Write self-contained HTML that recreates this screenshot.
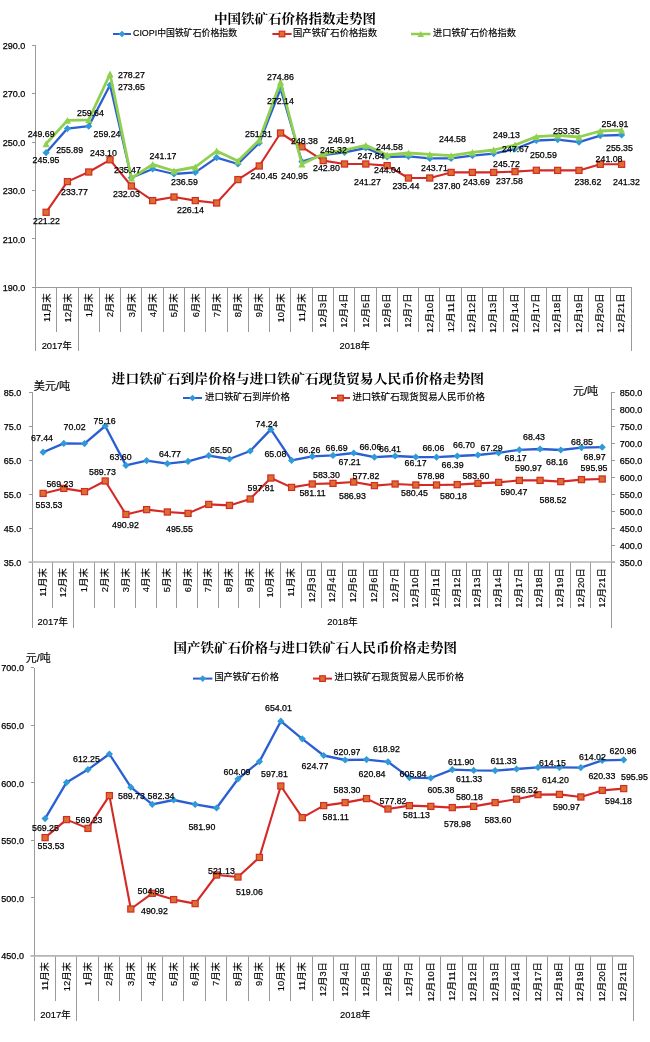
<!DOCTYPE html>
<html><head><meta charset="utf-8"><title>铁矿石价格走势图</title>
<style>
html,body{margin:0;padding:0;background:#fff;}
body{width:650px;height:1042px;overflow:hidden;}
svg{display:block;}
text{font-family:"Liberation Sans", "Noto Sans CJK SC", sans-serif;}
.n{stroke:#000;stroke-width:0.25px;}
.c{stroke:#000;stroke-width:0.15px;}
</style></head><body>
<svg width="650" height="1042" viewBox="0 0 650 1042">
<rect width="650" height="1042" fill="#fff"/>
<g stroke="#9a9a9a" stroke-width="1" fill="none" shape-rendering="crispEdges">
<line x1="35.5" y1="45" x2="35.5" y2="351"/>
<line x1="32" y1="45" x2="35.5" y2="45"/>
<line x1="32" y1="93.5" x2="35.5" y2="93.5"/>
<line x1="32" y1="142" x2="35.5" y2="142"/>
<line x1="32" y1="190.4" x2="35.5" y2="190.4"/>
<line x1="32" y1="238.9" x2="35.5" y2="238.9"/>
<line x1="32" y1="287.4" x2="35.5" y2="287.4"/>
<line x1="35.5" y1="287.4" x2="631.4" y2="287.4"/>
<line x1="56.78" y1="287.4" x2="56.78" y2="332"/>
<line x1="78.06" y1="287.4" x2="78.06" y2="351"/>
<line x1="99.35" y1="287.4" x2="99.35" y2="332"/>
<line x1="120.63" y1="287.4" x2="120.63" y2="332"/>
<line x1="141.91" y1="287.4" x2="141.91" y2="332"/>
<line x1="163.19" y1="287.4" x2="163.19" y2="332"/>
<line x1="184.47" y1="287.4" x2="184.47" y2="332"/>
<line x1="205.76" y1="287.4" x2="205.76" y2="332"/>
<line x1="227.04" y1="287.4" x2="227.04" y2="332"/>
<line x1="248.32" y1="287.4" x2="248.32" y2="332"/>
<line x1="269.6" y1="287.4" x2="269.6" y2="332"/>
<line x1="290.89" y1="287.4" x2="290.89" y2="332"/>
<line x1="312.17" y1="287.4" x2="312.17" y2="332"/>
<line x1="333.45" y1="287.4" x2="333.45" y2="332"/>
<line x1="354.73" y1="287.4" x2="354.73" y2="332"/>
<line x1="376.01" y1="287.4" x2="376.01" y2="332"/>
<line x1="397.3" y1="287.4" x2="397.3" y2="332"/>
<line x1="418.58" y1="287.4" x2="418.58" y2="332"/>
<line x1="439.86" y1="287.4" x2="439.86" y2="332"/>
<line x1="461.14" y1="287.4" x2="461.14" y2="332"/>
<line x1="482.42" y1="287.4" x2="482.42" y2="332"/>
<line x1="503.71" y1="287.4" x2="503.71" y2="332"/>
<line x1="524.99" y1="287.4" x2="524.99" y2="332"/>
<line x1="546.27" y1="287.4" x2="546.27" y2="332"/>
<line x1="567.55" y1="287.4" x2="567.55" y2="332"/>
<line x1="588.84" y1="287.4" x2="588.84" y2="332"/>
<line x1="610.12" y1="287.4" x2="610.12" y2="332"/>
<line x1="631.4" y1="287.4" x2="631.4" y2="351"/>
</g>
<text x="25.3" y="48.92" font-size="9.0" text-anchor="end" fill="#000" class="n">290.0</text>
<text x="25.3" y="97.42" font-size="9.0" text-anchor="end" fill="#000" class="n">270.0</text>
<text x="25.3" y="145.92" font-size="9.0" text-anchor="end" fill="#000" class="n">250.0</text>
<text x="25.3" y="194.32" font-size="9.0" text-anchor="end" fill="#000" class="n">230.0</text>
<text x="25.3" y="242.82" font-size="9.0" text-anchor="end" fill="#000" class="n">210.0</text>
<text x="25.3" y="291.32" font-size="9.0" text-anchor="end" fill="#000" class="n">190.0</text>
<text transform="translate(49.53,293.4) rotate(-90)" font-size="9.4" text-anchor="end" fill="#000" class="c">11月末</text>
<text transform="translate(70.81,293.4) rotate(-90)" font-size="9.4" text-anchor="end" fill="#000" class="c">12月末</text>
<text transform="translate(92.09,293.4) rotate(-90)" font-size="9.4" text-anchor="end" fill="#000" class="c">1月末</text>
<text transform="translate(113.37,293.4) rotate(-90)" font-size="9.4" text-anchor="end" fill="#000" class="c">2月末</text>
<text transform="translate(134.65,293.4) rotate(-90)" font-size="9.4" text-anchor="end" fill="#000" class="c">3月末</text>
<text transform="translate(155.94,293.4) rotate(-90)" font-size="9.4" text-anchor="end" fill="#000" class="c">4月末</text>
<text transform="translate(177.22,293.4) rotate(-90)" font-size="9.4" text-anchor="end" fill="#000" class="c">5月末</text>
<text transform="translate(198.5,293.4) rotate(-90)" font-size="9.4" text-anchor="end" fill="#000" class="c">6月末</text>
<text transform="translate(219.78,293.4) rotate(-90)" font-size="9.4" text-anchor="end" fill="#000" class="c">7月末</text>
<text transform="translate(241.06,293.4) rotate(-90)" font-size="9.4" text-anchor="end" fill="#000" class="c">8月末</text>
<text transform="translate(262.35,293.4) rotate(-90)" font-size="9.4" text-anchor="end" fill="#000" class="c">9月末</text>
<text transform="translate(283.63,293.4) rotate(-90)" font-size="9.4" text-anchor="end" fill="#000" class="c">10月末</text>
<text transform="translate(304.91,293.4) rotate(-90)" font-size="9.4" text-anchor="end" fill="#000" class="c">11月末</text>
<text transform="translate(326.19,293.4) rotate(-90)" font-size="9.4" text-anchor="end" fill="#000" class="c">12月3日</text>
<text transform="translate(347.48,293.4) rotate(-90)" font-size="9.4" text-anchor="end" fill="#000" class="c">12月4日</text>
<text transform="translate(368.76,293.4) rotate(-90)" font-size="9.4" text-anchor="end" fill="#000" class="c">12月5日</text>
<text transform="translate(390.04,293.4) rotate(-90)" font-size="9.4" text-anchor="end" fill="#000" class="c">12月6日</text>
<text transform="translate(411.32,293.4) rotate(-90)" font-size="9.4" text-anchor="end" fill="#000" class="c">12月7日</text>
<text transform="translate(432.6,293.4) rotate(-90)" font-size="9.4" text-anchor="end" fill="#000" class="c">12月10日</text>
<text transform="translate(453.89,293.4) rotate(-90)" font-size="9.4" text-anchor="end" fill="#000" class="c">12月11日</text>
<text transform="translate(475.17,293.4) rotate(-90)" font-size="9.4" text-anchor="end" fill="#000" class="c">12月12日</text>
<text transform="translate(496.45,293.4) rotate(-90)" font-size="9.4" text-anchor="end" fill="#000" class="c">12月13日</text>
<text transform="translate(517.73,293.4) rotate(-90)" font-size="9.4" text-anchor="end" fill="#000" class="c">12月14日</text>
<text transform="translate(539.01,293.4) rotate(-90)" font-size="9.4" text-anchor="end" fill="#000" class="c">12月17日</text>
<text transform="translate(560.3,293.4) rotate(-90)" font-size="9.4" text-anchor="end" fill="#000" class="c">12月18日</text>
<text transform="translate(581.58,293.4) rotate(-90)" font-size="9.4" text-anchor="end" fill="#000" class="c">12月19日</text>
<text transform="translate(602.86,293.4) rotate(-90)" font-size="9.4" text-anchor="end" fill="#000" class="c">12月20日</text>
<text transform="translate(624.14,293.4) rotate(-90)" font-size="9.4" text-anchor="end" fill="#000" class="c">12月21日</text>
<text x="56.78" y="349.38" font-size="9.4" text-anchor="middle" fill="#000" class="c">2017年</text>
<text x="354.73" y="349.38" font-size="9.4" text-anchor="middle" fill="#000" class="c">2018年</text>
<text x="214" y="22.94" font-size="13" text-anchor="start" fill="#000" textLength="162" lengthAdjust="spacingAndGlyphs" font-weight="bold" style='font-family:"Liberation Serif", "Noto Serif CJK SC", serif'>中国铁矿石价格指数走势图</text>
<line x1="113" y1="34" x2="131" y2="34" stroke="#2a5fd3" stroke-width="2"/>
<path d="M122 30.7L125.3 34L122 37.3L118.7 34Z" fill="#2f9ad8"/>
<text x="133" y="35.93" font-size="9.3" text-anchor="start" fill="#000" textLength="104" lengthAdjust="spacingAndGlyphs" class="c">CIOPI中国铁矿石价格指数</text>
<line x1="272.4" y1="34" x2="291.6" y2="34" stroke="#d42a26" stroke-width="2"/>
<rect x="279.2" y="31.2" width="5.6" height="5.6" fill="#d9702e" stroke="#d42a26" stroke-width="1.2"/>
<text x="293" y="35.93" font-size="9.3" text-anchor="start" fill="#000" textLength="84" lengthAdjust="spacingAndGlyphs" class="c">国产铁矿石价格指数</text>
<line x1="411" y1="34" x2="430.5" y2="34" stroke="#90cf50" stroke-width="2.5"/>
<path d="M420.75 31L424 37L417.5 37Z" fill="#90cf50"/>
<text x="433" y="35.93" font-size="9.3" text-anchor="start" fill="#000" textLength="83" lengthAdjust="spacingAndGlyphs" class="c">进口铁矿石价格指数</text>
<polyline points="46.1,152.7 67.42,128.6 88.73,126.2 110.05,85 131.36,177.8 152.68,169 173.99,174 195.31,172.4 216.62,157.6 237.94,164 259.25,143 280.56,88.8 301.88,161.6 323.2,155 344.51,152.4 365.83,148 387.14,157 408.46,156.4 429.77,158.4 451.09,158.4 472.4,155.6 493.72,153.6 515.03,149 536.35,140.5 557.66,139.6 578.98,142.2 600.29,135.6 621.61,135" fill="none" stroke="#2a5fd3" stroke-width="2.3" stroke-linejoin="round" stroke-linecap="round"/>
<path d="M46.1 149.1L49.7 152.7L46.1 156.3L42.5 152.7Z" fill="#2f9ad8"/>
<path d="M67.42 125L71.02 128.6L67.42 132.2L63.82 128.6Z" fill="#2f9ad8"/>
<path d="M88.73 122.6L92.33 126.2L88.73 129.8L85.13 126.2Z" fill="#2f9ad8"/>
<path d="M110.05 81.4L113.65 85L110.05 88.6L106.45 85Z" fill="#2f9ad8"/>
<path d="M131.36 174.2L134.96 177.8L131.36 181.4L127.76 177.8Z" fill="#2f9ad8"/>
<path d="M152.68 165.4L156.28 169L152.68 172.6L149.08 169Z" fill="#2f9ad8"/>
<path d="M173.99 170.4L177.59 174L173.99 177.6L170.39 174Z" fill="#2f9ad8"/>
<path d="M195.31 168.8L198.91 172.4L195.31 176L191.71 172.4Z" fill="#2f9ad8"/>
<path d="M216.62 154L220.22 157.6L216.62 161.2L213.02 157.6Z" fill="#2f9ad8"/>
<path d="M237.94 160.4L241.53 164L237.94 167.6L234.34 164Z" fill="#2f9ad8"/>
<path d="M259.25 139.4L262.85 143L259.25 146.6L255.65 143Z" fill="#2f9ad8"/>
<path d="M280.56 85.2L284.17 88.8L280.56 92.4L276.96 88.8Z" fill="#2f9ad8"/>
<path d="M301.88 158L305.48 161.6L301.88 165.2L298.28 161.6Z" fill="#2f9ad8"/>
<path d="M323.2 151.4L326.8 155L323.2 158.6L319.6 155Z" fill="#2f9ad8"/>
<path d="M344.51 148.8L348.11 152.4L344.51 156L340.91 152.4Z" fill="#2f9ad8"/>
<path d="M365.83 144.4L369.43 148L365.83 151.6L362.23 148Z" fill="#2f9ad8"/>
<path d="M387.14 153.4L390.74 157L387.14 160.6L383.54 157Z" fill="#2f9ad8"/>
<path d="M408.46 152.8L412.06 156.4L408.46 160L404.86 156.4Z" fill="#2f9ad8"/>
<path d="M429.77 154.8L433.37 158.4L429.77 162L426.17 158.4Z" fill="#2f9ad8"/>
<path d="M451.09 154.8L454.69 158.4L451.09 162L447.49 158.4Z" fill="#2f9ad8"/>
<path d="M472.4 152L476 155.6L472.4 159.2L468.8 155.6Z" fill="#2f9ad8"/>
<path d="M493.72 150L497.32 153.6L493.72 157.2L490.12 153.6Z" fill="#2f9ad8"/>
<path d="M515.03 145.4L518.63 149L515.03 152.6L511.43 149Z" fill="#2f9ad8"/>
<path d="M536.35 136.9L539.95 140.5L536.35 144.1L532.75 140.5Z" fill="#2f9ad8"/>
<path d="M557.66 136L561.26 139.6L557.66 143.2L554.06 139.6Z" fill="#2f9ad8"/>
<path d="M578.98 138.6L582.58 142.2L578.98 145.8L575.38 142.2Z" fill="#2f9ad8"/>
<path d="M600.29 132L603.89 135.6L600.29 139.2L596.69 135.6Z" fill="#2f9ad8"/>
<path d="M621.61 131.4L625.21 135L621.61 138.6L618 135Z" fill="#2f9ad8"/>
<polyline points="46.1,212.3 67.42,181.6 88.73,172 110.05,159.8 131.36,186 152.68,200.6 173.99,197 195.31,200.6 216.62,203 237.94,179.6 259.25,166 280.56,133 301.88,146.8 323.2,160.6 344.51,164 365.83,164 387.14,165.6 408.46,178 429.77,178 451.09,172.4 472.4,172.4 493.72,172.4 515.03,171.6 536.35,170.3 557.66,170.4 578.98,170.4 600.29,164.3 621.61,164.3" fill="none" stroke="#d42a26" stroke-width="2.1" stroke-linejoin="round" stroke-linecap="round"/>
<rect x="43.05" y="209.25" width="6.1" height="6.1" fill="#d9702e" stroke="#d42a26" stroke-width="1.2"/>
<rect x="64.37" y="178.55" width="6.1" height="6.1" fill="#d9702e" stroke="#d42a26" stroke-width="1.2"/>
<rect x="85.68" y="168.95" width="6.1" height="6.1" fill="#d9702e" stroke="#d42a26" stroke-width="1.2"/>
<rect x="107" y="156.75" width="6.1" height="6.1" fill="#d9702e" stroke="#d42a26" stroke-width="1.2"/>
<rect x="128.31" y="182.95" width="6.1" height="6.1" fill="#d9702e" stroke="#d42a26" stroke-width="1.2"/>
<rect x="149.62" y="197.55" width="6.1" height="6.1" fill="#d9702e" stroke="#d42a26" stroke-width="1.2"/>
<rect x="170.94" y="193.95" width="6.1" height="6.1" fill="#d9702e" stroke="#d42a26" stroke-width="1.2"/>
<rect x="192.25" y="197.55" width="6.1" height="6.1" fill="#d9702e" stroke="#d42a26" stroke-width="1.2"/>
<rect x="213.57" y="199.95" width="6.1" height="6.1" fill="#d9702e" stroke="#d42a26" stroke-width="1.2"/>
<rect x="234.88" y="176.55" width="6.1" height="6.1" fill="#d9702e" stroke="#d42a26" stroke-width="1.2"/>
<rect x="256.2" y="162.95" width="6.1" height="6.1" fill="#d9702e" stroke="#d42a26" stroke-width="1.2"/>
<rect x="277.52" y="129.95" width="6.1" height="6.1" fill="#d9702e" stroke="#d42a26" stroke-width="1.2"/>
<rect x="298.83" y="143.75" width="6.1" height="6.1" fill="#d9702e" stroke="#d42a26" stroke-width="1.2"/>
<rect x="320.15" y="157.55" width="6.1" height="6.1" fill="#d9702e" stroke="#d42a26" stroke-width="1.2"/>
<rect x="341.46" y="160.95" width="6.1" height="6.1" fill="#d9702e" stroke="#d42a26" stroke-width="1.2"/>
<rect x="362.78" y="160.95" width="6.1" height="6.1" fill="#d9702e" stroke="#d42a26" stroke-width="1.2"/>
<rect x="384.09" y="162.55" width="6.1" height="6.1" fill="#d9702e" stroke="#d42a26" stroke-width="1.2"/>
<rect x="405.41" y="174.95" width="6.1" height="6.1" fill="#d9702e" stroke="#d42a26" stroke-width="1.2"/>
<rect x="426.72" y="174.95" width="6.1" height="6.1" fill="#d9702e" stroke="#d42a26" stroke-width="1.2"/>
<rect x="448.04" y="169.35" width="6.1" height="6.1" fill="#d9702e" stroke="#d42a26" stroke-width="1.2"/>
<rect x="469.35" y="169.35" width="6.1" height="6.1" fill="#d9702e" stroke="#d42a26" stroke-width="1.2"/>
<rect x="490.67" y="169.35" width="6.1" height="6.1" fill="#d9702e" stroke="#d42a26" stroke-width="1.2"/>
<rect x="511.98" y="168.55" width="6.1" height="6.1" fill="#d9702e" stroke="#d42a26" stroke-width="1.2"/>
<rect x="533.3" y="167.25" width="6.1" height="6.1" fill="#d9702e" stroke="#d42a26" stroke-width="1.2"/>
<rect x="554.61" y="167.35" width="6.1" height="6.1" fill="#d9702e" stroke="#d42a26" stroke-width="1.2"/>
<rect x="575.93" y="167.35" width="6.1" height="6.1" fill="#d9702e" stroke="#d42a26" stroke-width="1.2"/>
<rect x="597.24" y="161.25" width="6.1" height="6.1" fill="#d9702e" stroke="#d42a26" stroke-width="1.2"/>
<rect x="618.56" y="161.25" width="6.1" height="6.1" fill="#d9702e" stroke="#d42a26" stroke-width="1.2"/>
<polyline points="46.1,143.8 67.42,120.4 88.73,119.8 110.05,74 131.36,178.2 152.68,164.4 173.99,171 195.31,167 216.62,151 237.94,161 259.25,140 280.56,82 301.88,164 323.2,154 344.51,150 365.83,145.3 387.14,155 408.46,153 429.77,154.4 451.09,155.6 472.4,152.4 493.72,150 515.03,145 536.35,136.6 557.66,135.3 578.98,137 600.29,131 621.61,130.2" fill="none" stroke="#90cf50" stroke-width="2.8" stroke-linejoin="round" stroke-linecap="round"/>
<path d="M46.1 140.4L49.7 147.2L42.5 147.2Z" fill="#90cf50"/>
<path d="M67.42 117L71.02 123.8L63.82 123.8Z" fill="#90cf50"/>
<path d="M88.73 116.4L92.33 123.2L85.13 123.2Z" fill="#90cf50"/>
<path d="M110.05 70.6L113.65 77.4L106.45 77.4Z" fill="#90cf50"/>
<path d="M131.36 174.8L134.96 181.6L127.76 181.6Z" fill="#90cf50"/>
<path d="M152.68 161L156.28 167.8L149.08 167.8Z" fill="#90cf50"/>
<path d="M173.99 167.6L177.59 174.4L170.39 174.4Z" fill="#90cf50"/>
<path d="M195.31 163.6L198.91 170.4L191.71 170.4Z" fill="#90cf50"/>
<path d="M216.62 147.6L220.22 154.4L213.02 154.4Z" fill="#90cf50"/>
<path d="M237.94 157.6L241.53 164.4L234.34 164.4Z" fill="#90cf50"/>
<path d="M259.25 136.6L262.85 143.4L255.65 143.4Z" fill="#90cf50"/>
<path d="M280.56 78.6L284.17 85.4L276.96 85.4Z" fill="#90cf50"/>
<path d="M301.88 160.6L305.48 167.4L298.28 167.4Z" fill="#90cf50"/>
<path d="M323.2 150.6L326.8 157.4L319.6 157.4Z" fill="#90cf50"/>
<path d="M344.51 146.6L348.11 153.4L340.91 153.4Z" fill="#90cf50"/>
<path d="M365.83 141.9L369.43 148.7L362.23 148.7Z" fill="#90cf50"/>
<path d="M387.14 151.6L390.74 158.4L383.54 158.4Z" fill="#90cf50"/>
<path d="M408.46 149.6L412.06 156.4L404.86 156.4Z" fill="#90cf50"/>
<path d="M429.77 151L433.37 157.8L426.17 157.8Z" fill="#90cf50"/>
<path d="M451.09 152.2L454.69 159L447.49 159Z" fill="#90cf50"/>
<path d="M472.4 149L476 155.8L468.8 155.8Z" fill="#90cf50"/>
<path d="M493.72 146.6L497.32 153.4L490.12 153.4Z" fill="#90cf50"/>
<path d="M515.03 141.6L518.63 148.4L511.43 148.4Z" fill="#90cf50"/>
<path d="M536.35 133.2L539.95 140L532.75 140Z" fill="#90cf50"/>
<path d="M557.66 131.9L561.26 138.7L554.06 138.7Z" fill="#90cf50"/>
<path d="M578.98 133.6L582.58 140.4L575.38 140.4Z" fill="#90cf50"/>
<path d="M600.29 127.6L603.89 134.4L596.69 134.4Z" fill="#90cf50"/>
<path d="M621.61 126.8L625.21 133.6L618 133.6Z" fill="#90cf50"/>
<text x="27.7" y="136.55" font-size="8.8" text-anchor="start" fill="#000" class="n">249.69</text>
<text x="32.6" y="162.75" font-size="8.8" text-anchor="start" fill="#000" class="n">245.95</text>
<text x="33" y="223.55" font-size="8.8" text-anchor="start" fill="#000" class="n">221.22</text>
<text x="56.2" y="153.05" font-size="8.8" text-anchor="start" fill="#000" class="n">255.89</text>
<text x="61" y="194.55" font-size="8.8" text-anchor="start" fill="#000" class="n">233.77</text>
<text x="77" y="115.85" font-size="8.8" text-anchor="start" fill="#000" class="n">259.64</text>
<text x="93.6" y="136.95" font-size="8.8" text-anchor="start" fill="#000" class="n">259.24</text>
<text x="90" y="155.85" font-size="8.8" text-anchor="start" fill="#000" class="n">243.10</text>
<text x="118" y="77.95" font-size="8.8" text-anchor="start" fill="#000" class="n">278.27</text>
<text x="118" y="89.55" font-size="8.8" text-anchor="start" fill="#000" class="n">273.65</text>
<text x="114" y="172.55" font-size="8.8" text-anchor="start" fill="#000" class="n">235.47</text>
<text x="113" y="196.55" font-size="8.8" text-anchor="start" fill="#000" class="n">232.03</text>
<text x="149.6" y="158.55" font-size="8.8" text-anchor="start" fill="#000" class="n">241.17</text>
<text x="171" y="185.15" font-size="8.8" text-anchor="start" fill="#000" class="n">236.59</text>
<text x="177" y="213.15" font-size="8.8" text-anchor="start" fill="#000" class="n">226.14</text>
<text x="245" y="137.15" font-size="8.8" text-anchor="start" fill="#000" class="n">251.31</text>
<text x="250.6" y="178.55" font-size="8.8" text-anchor="start" fill="#000" class="n">240.45</text>
<text x="267" y="79.55" font-size="8.8" text-anchor="start" fill="#000" class="n">274.86</text>
<text x="267" y="103.55" font-size="8.8" text-anchor="start" fill="#000" class="n">272.14</text>
<text x="281" y="178.55" font-size="8.8" text-anchor="start" fill="#000" class="n">240.95</text>
<text x="291" y="143.55" font-size="8.8" text-anchor="start" fill="#000" class="n">248.38</text>
<text x="313" y="171.15" font-size="8.8" text-anchor="start" fill="#000" class="n">242.80</text>
<text x="320" y="152.55" font-size="8.8" text-anchor="start" fill="#000" class="n">245.32</text>
<text x="328" y="143.15" font-size="8.8" text-anchor="start" fill="#000" class="n">246.91</text>
<text x="357.6" y="158.55" font-size="8.8" text-anchor="start" fill="#000" class="n">247.84</text>
<text x="354" y="184.55" font-size="8.8" text-anchor="start" fill="#000" class="n">241.27</text>
<text x="376" y="149.95" font-size="8.8" text-anchor="start" fill="#000" class="n">244.58</text>
<text x="374" y="173.15" font-size="8.8" text-anchor="start" fill="#000" class="n">244.04</text>
<text x="392.4" y="188.55" font-size="8.8" text-anchor="start" fill="#000" class="n">235.44</text>
<text x="421" y="170.55" font-size="8.8" text-anchor="start" fill="#000" class="n">243.71</text>
<text x="439" y="141.55" font-size="8.8" text-anchor="start" fill="#000" class="n">244.58</text>
<text x="433.6" y="188.55" font-size="8.8" text-anchor="start" fill="#000" class="n">237.80</text>
<text x="463" y="184.55" font-size="8.8" text-anchor="start" fill="#000" class="n">243.69</text>
<text x="493" y="137.95" font-size="8.8" text-anchor="start" fill="#000" class="n">249.13</text>
<text x="502" y="151.55" font-size="8.8" text-anchor="start" fill="#000" class="n">247.67</text>
<text x="493" y="167.15" font-size="8.8" text-anchor="start" fill="#000" class="n">245.72</text>
<text x="496" y="183.95" font-size="8.8" text-anchor="start" fill="#000" class="n">237.58</text>
<text x="530" y="157.95" font-size="8.8" text-anchor="start" fill="#000" class="n">250.59</text>
<text x="553" y="133.55" font-size="8.8" text-anchor="start" fill="#000" class="n">253.35</text>
<text x="574.4" y="184.55" font-size="8.8" text-anchor="start" fill="#000" class="n">238.62</text>
<text x="601.6" y="126.55" font-size="8.8" text-anchor="start" fill="#000" class="n">254.91</text>
<text x="606" y="150.55" font-size="8.8" text-anchor="start" fill="#000" class="n">255.35</text>
<text x="595.6" y="161.55" font-size="8.8" text-anchor="start" fill="#000" class="n">241.08</text>
<text x="613" y="184.55" font-size="8.8" text-anchor="start" fill="#000" class="n">241.32</text>
<g stroke="#9a9a9a" stroke-width="1" fill="none" shape-rendering="crispEdges">
<line x1="32" y1="392" x2="32" y2="628"/>
<line x1="28.5" y1="392" x2="32" y2="392"/>
<line x1="28.5" y1="426" x2="32" y2="426"/>
<line x1="28.5" y1="460" x2="32" y2="460"/>
<line x1="28.5" y1="494" x2="32" y2="494"/>
<line x1="28.5" y1="528" x2="32" y2="528"/>
<line x1="28.5" y1="562" x2="32" y2="562"/>
<line x1="611.5" y1="392" x2="611.5" y2="628"/>
<line x1="611.5" y1="392" x2="615" y2="392"/>
<line x1="611.5" y1="409" x2="615" y2="409"/>
<line x1="611.5" y1="426" x2="615" y2="426"/>
<line x1="611.5" y1="443" x2="615" y2="443"/>
<line x1="611.5" y1="460" x2="615" y2="460"/>
<line x1="611.5" y1="477" x2="615" y2="477"/>
<line x1="611.5" y1="494" x2="615" y2="494"/>
<line x1="611.5" y1="511" x2="615" y2="511"/>
<line x1="611.5" y1="528" x2="615" y2="528"/>
<line x1="611.5" y1="545" x2="615" y2="545"/>
<line x1="611.5" y1="562" x2="615" y2="562"/>
<line x1="52.7" y1="562" x2="52.7" y2="608"/>
<line x1="73.39" y1="562" x2="73.39" y2="628"/>
<line x1="94.09" y1="562" x2="94.09" y2="608"/>
<line x1="114.79" y1="562" x2="114.79" y2="608"/>
<line x1="135.48" y1="562" x2="135.48" y2="608"/>
<line x1="156.18" y1="562" x2="156.18" y2="608"/>
<line x1="176.88" y1="562" x2="176.88" y2="608"/>
<line x1="197.57" y1="562" x2="197.57" y2="608"/>
<line x1="218.27" y1="562" x2="218.27" y2="608"/>
<line x1="238.96" y1="562" x2="238.96" y2="608"/>
<line x1="259.66" y1="562" x2="259.66" y2="608"/>
<line x1="280.36" y1="562" x2="280.36" y2="608"/>
<line x1="301.05" y1="562" x2="301.05" y2="608"/>
<line x1="321.75" y1="562" x2="321.75" y2="608"/>
<line x1="342.45" y1="562" x2="342.45" y2="608"/>
<line x1="363.14" y1="562" x2="363.14" y2="608"/>
<line x1="383.84" y1="562" x2="383.84" y2="608"/>
<line x1="404.54" y1="562" x2="404.54" y2="608"/>
<line x1="425.23" y1="562" x2="425.23" y2="608"/>
<line x1="445.93" y1="562" x2="445.93" y2="608"/>
<line x1="466.63" y1="562" x2="466.63" y2="608"/>
<line x1="487.32" y1="562" x2="487.32" y2="608"/>
<line x1="508.02" y1="562" x2="508.02" y2="608"/>
<line x1="528.71" y1="562" x2="528.71" y2="608"/>
<line x1="549.41" y1="562" x2="549.41" y2="608"/>
<line x1="570.11" y1="562" x2="570.11" y2="608"/>
<line x1="590.8" y1="562" x2="590.8" y2="608"/>
</g>
<line x1="28.5" y1="562" x2="615" y2="562" stroke="#b4b4b4" stroke-width="1.6"/>
<text x="21.3" y="395.92" font-size="9.0" text-anchor="end" fill="#000" class="n">85.0</text>
<text x="21.3" y="429.92" font-size="9.0" text-anchor="end" fill="#000" class="n">75.0</text>
<text x="21.3" y="463.92" font-size="9.0" text-anchor="end" fill="#000" class="n">65.0</text>
<text x="21.3" y="497.92" font-size="9.0" text-anchor="end" fill="#000" class="n">55.0</text>
<text x="21.3" y="531.92" font-size="9.0" text-anchor="end" fill="#000" class="n">45.0</text>
<text x="21.3" y="565.92" font-size="9.0" text-anchor="end" fill="#000" class="n">35.0</text>
<text x="619.8" y="395.92" font-size="9.0" text-anchor="start" fill="#000" class="n">850.0</text>
<text x="619.8" y="412.92" font-size="9.0" text-anchor="start" fill="#000" class="n">800.0</text>
<text x="619.8" y="429.92" font-size="9.0" text-anchor="start" fill="#000" class="n">750.0</text>
<text x="619.8" y="446.92" font-size="9.0" text-anchor="start" fill="#000" class="n">700.0</text>
<text x="619.8" y="463.92" font-size="9.0" text-anchor="start" fill="#000" class="n">650.0</text>
<text x="619.8" y="480.92" font-size="9.0" text-anchor="start" fill="#000" class="n">600.0</text>
<text x="619.8" y="497.92" font-size="9.0" text-anchor="start" fill="#000" class="n">550.0</text>
<text x="619.8" y="514.92" font-size="9.0" text-anchor="start" fill="#000" class="n">500.0</text>
<text x="619.8" y="531.92" font-size="9.0" text-anchor="start" fill="#000" class="n">450.0</text>
<text x="619.8" y="548.92" font-size="9.0" text-anchor="start" fill="#000" class="n">400.0</text>
<text x="619.8" y="565.92" font-size="9.0" text-anchor="start" fill="#000" class="n">350.0</text>
<text transform="translate(45.73,568.2) rotate(-90)" font-size="9.4" text-anchor="end" fill="#000" class="c">11月末</text>
<text transform="translate(66.43,568.2) rotate(-90)" font-size="9.4" text-anchor="end" fill="#000" class="c">12月末</text>
<text transform="translate(87.13,568.2) rotate(-90)" font-size="9.4" text-anchor="end" fill="#000" class="c">1月末</text>
<text transform="translate(107.82,568.2) rotate(-90)" font-size="9.4" text-anchor="end" fill="#000" class="c">2月末</text>
<text transform="translate(128.52,568.2) rotate(-90)" font-size="9.4" text-anchor="end" fill="#000" class="c">3月末</text>
<text transform="translate(149.21,568.2) rotate(-90)" font-size="9.4" text-anchor="end" fill="#000" class="c">4月末</text>
<text transform="translate(169.91,568.2) rotate(-90)" font-size="9.4" text-anchor="end" fill="#000" class="c">5月末</text>
<text transform="translate(190.61,568.2) rotate(-90)" font-size="9.4" text-anchor="end" fill="#000" class="c">6月末</text>
<text transform="translate(211.3,568.2) rotate(-90)" font-size="9.4" text-anchor="end" fill="#000" class="c">7月末</text>
<text transform="translate(232,568.2) rotate(-90)" font-size="9.4" text-anchor="end" fill="#000" class="c">8月末</text>
<text transform="translate(252.7,568.2) rotate(-90)" font-size="9.4" text-anchor="end" fill="#000" class="c">9月末</text>
<text transform="translate(273.39,568.2) rotate(-90)" font-size="9.4" text-anchor="end" fill="#000" class="c">10月末</text>
<text transform="translate(294.09,568.2) rotate(-90)" font-size="9.4" text-anchor="end" fill="#000" class="c">11月末</text>
<text transform="translate(314.79,568.2) rotate(-90)" font-size="9.4" text-anchor="end" fill="#000" class="c">12月3日</text>
<text transform="translate(335.48,568.2) rotate(-90)" font-size="9.4" text-anchor="end" fill="#000" class="c">12月4日</text>
<text transform="translate(356.18,568.2) rotate(-90)" font-size="9.4" text-anchor="end" fill="#000" class="c">12月5日</text>
<text transform="translate(376.88,568.2) rotate(-90)" font-size="9.4" text-anchor="end" fill="#000" class="c">12月6日</text>
<text transform="translate(397.57,568.2) rotate(-90)" font-size="9.4" text-anchor="end" fill="#000" class="c">12月7日</text>
<text transform="translate(418.27,568.2) rotate(-90)" font-size="9.4" text-anchor="end" fill="#000" class="c">12月10日</text>
<text transform="translate(438.96,568.2) rotate(-90)" font-size="9.4" text-anchor="end" fill="#000" class="c">12月11日</text>
<text transform="translate(459.66,568.2) rotate(-90)" font-size="9.4" text-anchor="end" fill="#000" class="c">12月12日</text>
<text transform="translate(480.36,568.2) rotate(-90)" font-size="9.4" text-anchor="end" fill="#000" class="c">12月13日</text>
<text transform="translate(501.05,568.2) rotate(-90)" font-size="9.4" text-anchor="end" fill="#000" class="c">12月14日</text>
<text transform="translate(521.75,568.2) rotate(-90)" font-size="9.4" text-anchor="end" fill="#000" class="c">12月17日</text>
<text transform="translate(542.45,568.2) rotate(-90)" font-size="9.4" text-anchor="end" fill="#000" class="c">12月18日</text>
<text transform="translate(563.14,568.2) rotate(-90)" font-size="9.4" text-anchor="end" fill="#000" class="c">12月19日</text>
<text transform="translate(583.84,568.2) rotate(-90)" font-size="9.4" text-anchor="end" fill="#000" class="c">12月20日</text>
<text transform="translate(604.54,568.2) rotate(-90)" font-size="9.4" text-anchor="end" fill="#000" class="c">12月21日</text>
<text x="52.7" y="624.88" font-size="9.4" text-anchor="middle" fill="#000" class="c">2017年</text>
<text x="342.45" y="624.88" font-size="9.4" text-anchor="middle" fill="#000" class="c">2018年</text>
<text x="111.6" y="382.64" font-size="13" text-anchor="start" fill="#000" textLength="372.4" lengthAdjust="spacingAndGlyphs" font-weight="bold" style='font-family:"Liberation Serif", "Noto Serif CJK SC", serif'>进口铁矿石到岸价格与进口铁矿石现货贸易人民币价格走势图</text>
<text x="33.8" y="389.7" font-size="10.8" text-anchor="start" fill="#000" textLength="36.4" lengthAdjust="spacingAndGlyphs" class="c">美元/吨</text>
<text x="572.9" y="395.2" font-size="10.8" text-anchor="start" fill="#000" textLength="25.3" lengthAdjust="spacingAndGlyphs" class="c">元/吨</text>
<line x1="183" y1="398" x2="202" y2="398" stroke="#2a5fd3" stroke-width="2"/>
<path d="M192.5 394.7L195.8 398L192.5 401.3L189.2 398Z" fill="#2f9ad8"/>
<text x="205" y="399.59" font-size="9.45" text-anchor="start" fill="#000" textLength="85" lengthAdjust="spacingAndGlyphs" class="c">进口铁矿石到岸价格</text>
<line x1="331" y1="398" x2="350" y2="398" stroke="#d42a26" stroke-width="2"/>
<rect x="337.7" y="395.2" width="5.6" height="5.6" fill="#d9702e" stroke="#d42a26" stroke-width="1.2"/>
<text x="352.4" y="399.59" font-size="9.45" text-anchor="start" fill="#000" textLength="132.6" lengthAdjust="spacingAndGlyphs" class="c">进口铁矿石现货贸易人民币价格</text>
<polyline points="43.1,452.2 63.81,443.4 84.51,443.6 105.22,426 125.93,465.4 146.63,460.6 167.34,463.6 188.05,461.4 208.76,455.6 229.46,459 250.17,451 270.88,429.4 291.58,460.4 312.29,456.4 333,455.4 353.71,453 374.41,457.2 395.12,456 415.83,457 436.53,457.2 457.24,456 477.95,455 498.65,452.8 519.36,449.8 540.07,449 560.78,450 581.48,447.6 602.19,447.2" fill="none" stroke="#2a5fd3" stroke-width="2.3" stroke-linejoin="round" stroke-linecap="round"/>
<path d="M43.1 448.6L46.7 452.2L43.1 455.8L39.5 452.2Z" fill="#2f9ad8"/>
<path d="M63.81 439.8L67.41 443.4L63.81 447L60.21 443.4Z" fill="#2f9ad8"/>
<path d="M84.51 440L88.11 443.6L84.51 447.2L80.91 443.6Z" fill="#2f9ad8"/>
<path d="M105.22 422.4L108.82 426L105.22 429.6L101.62 426Z" fill="#2f9ad8"/>
<path d="M125.93 461.8L129.53 465.4L125.93 469L122.33 465.4Z" fill="#2f9ad8"/>
<path d="M146.63 457L150.23 460.6L146.63 464.2L143.03 460.6Z" fill="#2f9ad8"/>
<path d="M167.34 460L170.94 463.6L167.34 467.2L163.74 463.6Z" fill="#2f9ad8"/>
<path d="M188.05 457.8L191.65 461.4L188.05 465L184.45 461.4Z" fill="#2f9ad8"/>
<path d="M208.76 452L212.36 455.6L208.76 459.2L205.16 455.6Z" fill="#2f9ad8"/>
<path d="M229.46 455.4L233.06 459L229.46 462.6L225.86 459Z" fill="#2f9ad8"/>
<path d="M250.17 447.4L253.77 451L250.17 454.6L246.57 451Z" fill="#2f9ad8"/>
<path d="M270.88 425.8L274.48 429.4L270.88 433L267.28 429.4Z" fill="#2f9ad8"/>
<path d="M291.58 456.8L295.18 460.4L291.58 464L287.98 460.4Z" fill="#2f9ad8"/>
<path d="M312.29 452.8L315.89 456.4L312.29 460L308.69 456.4Z" fill="#2f9ad8"/>
<path d="M333 451.8L336.6 455.4L333 459L329.4 455.4Z" fill="#2f9ad8"/>
<path d="M353.71 449.4L357.31 453L353.71 456.6L350.11 453Z" fill="#2f9ad8"/>
<path d="M374.41 453.6L378.01 457.2L374.41 460.8L370.81 457.2Z" fill="#2f9ad8"/>
<path d="M395.12 452.4L398.72 456L395.12 459.6L391.52 456Z" fill="#2f9ad8"/>
<path d="M415.83 453.4L419.43 457L415.83 460.6L412.23 457Z" fill="#2f9ad8"/>
<path d="M436.53 453.6L440.13 457.2L436.53 460.8L432.93 457.2Z" fill="#2f9ad8"/>
<path d="M457.24 452.4L460.84 456L457.24 459.6L453.64 456Z" fill="#2f9ad8"/>
<path d="M477.95 451.4L481.55 455L477.95 458.6L474.35 455Z" fill="#2f9ad8"/>
<path d="M498.65 449.2L502.25 452.8L498.65 456.4L495.05 452.8Z" fill="#2f9ad8"/>
<path d="M519.36 446.2L522.96 449.8L519.36 453.4L515.76 449.8Z" fill="#2f9ad8"/>
<path d="M540.07 445.4L543.67 449L540.07 452.6L536.47 449Z" fill="#2f9ad8"/>
<path d="M560.78 446.4L564.38 450L560.78 453.6L557.18 450Z" fill="#2f9ad8"/>
<path d="M581.48 444L585.08 447.6L581.48 451.2L577.88 447.6Z" fill="#2f9ad8"/>
<path d="M602.19 443.6L605.79 447.2L602.19 450.8L598.59 447.2Z" fill="#2f9ad8"/>
<polyline points="43.1,493.4 63.81,488.4 84.51,491.6 105.22,481 125.93,514.4 146.63,509.6 167.34,512 188.05,513.4 208.76,504.4 229.46,505.4 250.17,499 270.88,478 291.58,487.4 312.29,484 333,483.4 353.71,482 374.41,485.6 395.12,484 415.83,485 436.53,485 457.24,484.6 477.95,483.4 498.65,482.4 519.36,480.4 540.07,480.4 560.78,481.6 581.48,479.6 602.19,479" fill="none" stroke="#d42a26" stroke-width="2.1" stroke-linejoin="round" stroke-linecap="round"/>
<rect x="40.05" y="490.35" width="6.1" height="6.1" fill="#d9702e" stroke="#d42a26" stroke-width="1.2"/>
<rect x="60.76" y="485.35" width="6.1" height="6.1" fill="#d9702e" stroke="#d42a26" stroke-width="1.2"/>
<rect x="81.46" y="488.55" width="6.1" height="6.1" fill="#d9702e" stroke="#d42a26" stroke-width="1.2"/>
<rect x="102.17" y="477.95" width="6.1" height="6.1" fill="#d9702e" stroke="#d42a26" stroke-width="1.2"/>
<rect x="122.88" y="511.35" width="6.1" height="6.1" fill="#d9702e" stroke="#d42a26" stroke-width="1.2"/>
<rect x="143.58" y="506.55" width="6.1" height="6.1" fill="#d9702e" stroke="#d42a26" stroke-width="1.2"/>
<rect x="164.29" y="508.95" width="6.1" height="6.1" fill="#d9702e" stroke="#d42a26" stroke-width="1.2"/>
<rect x="185" y="510.35" width="6.1" height="6.1" fill="#d9702e" stroke="#d42a26" stroke-width="1.2"/>
<rect x="205.71" y="501.35" width="6.1" height="6.1" fill="#d9702e" stroke="#d42a26" stroke-width="1.2"/>
<rect x="226.41" y="502.35" width="6.1" height="6.1" fill="#d9702e" stroke="#d42a26" stroke-width="1.2"/>
<rect x="247.12" y="495.95" width="6.1" height="6.1" fill="#d9702e" stroke="#d42a26" stroke-width="1.2"/>
<rect x="267.83" y="474.95" width="6.1" height="6.1" fill="#d9702e" stroke="#d42a26" stroke-width="1.2"/>
<rect x="288.53" y="484.35" width="6.1" height="6.1" fill="#d9702e" stroke="#d42a26" stroke-width="1.2"/>
<rect x="309.24" y="480.95" width="6.1" height="6.1" fill="#d9702e" stroke="#d42a26" stroke-width="1.2"/>
<rect x="329.95" y="480.35" width="6.1" height="6.1" fill="#d9702e" stroke="#d42a26" stroke-width="1.2"/>
<rect x="350.66" y="478.95" width="6.1" height="6.1" fill="#d9702e" stroke="#d42a26" stroke-width="1.2"/>
<rect x="371.36" y="482.55" width="6.1" height="6.1" fill="#d9702e" stroke="#d42a26" stroke-width="1.2"/>
<rect x="392.07" y="480.95" width="6.1" height="6.1" fill="#d9702e" stroke="#d42a26" stroke-width="1.2"/>
<rect x="412.78" y="481.95" width="6.1" height="6.1" fill="#d9702e" stroke="#d42a26" stroke-width="1.2"/>
<rect x="433.48" y="481.95" width="6.1" height="6.1" fill="#d9702e" stroke="#d42a26" stroke-width="1.2"/>
<rect x="454.19" y="481.55" width="6.1" height="6.1" fill="#d9702e" stroke="#d42a26" stroke-width="1.2"/>
<rect x="474.9" y="480.35" width="6.1" height="6.1" fill="#d9702e" stroke="#d42a26" stroke-width="1.2"/>
<rect x="495.6" y="479.35" width="6.1" height="6.1" fill="#d9702e" stroke="#d42a26" stroke-width="1.2"/>
<rect x="516.31" y="477.35" width="6.1" height="6.1" fill="#d9702e" stroke="#d42a26" stroke-width="1.2"/>
<rect x="537.02" y="477.35" width="6.1" height="6.1" fill="#d9702e" stroke="#d42a26" stroke-width="1.2"/>
<rect x="557.73" y="478.55" width="6.1" height="6.1" fill="#d9702e" stroke="#d42a26" stroke-width="1.2"/>
<rect x="578.43" y="476.55" width="6.1" height="6.1" fill="#d9702e" stroke="#d42a26" stroke-width="1.2"/>
<rect x="599.14" y="475.95" width="6.1" height="6.1" fill="#d9702e" stroke="#d42a26" stroke-width="1.2"/>
<text x="31" y="440.55" font-size="8.8" text-anchor="start" fill="#000" class="n">67.44</text>
<text x="63.6" y="429.55" font-size="8.8" text-anchor="start" fill="#000" class="n">70.02</text>
<text x="93.6" y="423.95" font-size="8.8" text-anchor="start" fill="#000" class="n">75.16</text>
<text x="109.6" y="459.55" font-size="8.8" text-anchor="start" fill="#000" class="n">63.60</text>
<text x="159" y="457.15" font-size="8.8" text-anchor="start" fill="#000" class="n">64.77</text>
<text x="210" y="452.55" font-size="8.8" text-anchor="start" fill="#000" class="n">65.50</text>
<text x="255.6" y="426.55" font-size="8.8" text-anchor="start" fill="#000" class="n">74.24</text>
<text x="264.4" y="456.55" font-size="8.8" text-anchor="start" fill="#000" class="n">65.08</text>
<text x="298.4" y="452.55" font-size="8.8" text-anchor="start" fill="#000" class="n">66.26</text>
<text x="325.6" y="450.55" font-size="8.8" text-anchor="start" fill="#000" class="n">66.69</text>
<text x="338.6" y="464.55" font-size="8.8" text-anchor="start" fill="#000" class="n">67.21</text>
<text x="359.4" y="449.55" font-size="8.8" text-anchor="start" fill="#000" class="n">66.06</text>
<text x="379" y="452.15" font-size="8.8" text-anchor="start" fill="#000" class="n">66.41</text>
<text x="404.6" y="465.55" font-size="8.8" text-anchor="start" fill="#000" class="n">66.17</text>
<text x="422.4" y="450.55" font-size="8.8" text-anchor="start" fill="#000" class="n">66.06</text>
<text x="441.6" y="467.95" font-size="8.8" text-anchor="start" fill="#000" class="n">66.39</text>
<text x="453" y="447.95" font-size="8.8" text-anchor="start" fill="#000" class="n">66.70</text>
<text x="480.6" y="450.55" font-size="8.8" text-anchor="start" fill="#000" class="n">67.29</text>
<text x="504.6" y="460.95" font-size="8.8" text-anchor="start" fill="#000" class="n">68.17</text>
<text x="523" y="439.55" font-size="8.8" text-anchor="start" fill="#000" class="n">68.43</text>
<text x="546" y="464.55" font-size="8.8" text-anchor="start" fill="#000" class="n">68.16</text>
<text x="571" y="444.55" font-size="8.8" text-anchor="start" fill="#000" class="n">68.85</text>
<text x="583.6" y="459.55" font-size="8.8" text-anchor="start" fill="#000" class="n">68.97</text>
<text x="35.6" y="507.55" font-size="8.8" text-anchor="start" fill="#000" class="n">553.53</text>
<text x="46.4" y="486.55" font-size="8.8" text-anchor="start" fill="#000" class="n">569.23</text>
<text x="89" y="474.55" font-size="8.8" text-anchor="start" fill="#000" class="n">589.73</text>
<text x="112" y="527.55" font-size="8.8" text-anchor="start" fill="#000" class="n">490.92</text>
<text x="166" y="532.15" font-size="8.8" text-anchor="start" fill="#000" class="n">495.55</text>
<text x="247.6" y="490.55" font-size="8.8" text-anchor="start" fill="#000" class="n">597.81</text>
<text x="299.4" y="495.55" font-size="8.8" text-anchor="start" fill="#000" class="n">581.11</text>
<text x="313" y="477.55" font-size="8.8" text-anchor="start" fill="#000" class="n">583.30</text>
<text x="339" y="498.55" font-size="8.8" text-anchor="start" fill="#000" class="n">586.93</text>
<text x="352.4" y="479.15" font-size="8.8" text-anchor="start" fill="#000" class="n">577.82</text>
<text x="401" y="495.55" font-size="8.8" text-anchor="start" fill="#000" class="n">580.45</text>
<text x="417.6" y="478.55" font-size="8.8" text-anchor="start" fill="#000" class="n">578.98</text>
<text x="440" y="499.15" font-size="8.8" text-anchor="start" fill="#000" class="n">580.18</text>
<text x="462.4" y="478.55" font-size="8.8" text-anchor="start" fill="#000" class="n">583.60</text>
<text x="500.4" y="494.55" font-size="8.8" text-anchor="start" fill="#000" class="n">590.47</text>
<text x="515" y="471.15" font-size="8.8" text-anchor="start" fill="#000" class="n">590.97</text>
<text x="539.6" y="502.55" font-size="8.8" text-anchor="start" fill="#000" class="n">588.52</text>
<text x="580.6" y="470.55" font-size="8.8" text-anchor="start" fill="#000" class="n">595.95</text>
<g stroke="#9a9a9a" stroke-width="1" fill="none" shape-rendering="crispEdges">
<line x1="34" y1="667.5" x2="34" y2="1021"/>
<line x1="30.5" y1="667.5" x2="34" y2="667.5"/>
<line x1="30.5" y1="725.1" x2="34" y2="725.1"/>
<line x1="30.5" y1="782.7" x2="34" y2="782.7"/>
<line x1="30.5" y1="840.3" x2="34" y2="840.3"/>
<line x1="30.5" y1="897.9" x2="34" y2="897.9"/>
<line x1="30.5" y1="955.5" x2="34" y2="955.5"/>
<line x1="55.41" y1="956" x2="55.41" y2="1001"/>
<line x1="76.83" y1="956" x2="76.83" y2="1021"/>
<line x1="98.24" y1="956" x2="98.24" y2="1001"/>
<line x1="119.66" y1="956" x2="119.66" y2="1001"/>
<line x1="141.07" y1="956" x2="141.07" y2="1001"/>
<line x1="162.49" y1="956" x2="162.49" y2="1001"/>
<line x1="183.9" y1="956" x2="183.9" y2="1001"/>
<line x1="205.31" y1="956" x2="205.31" y2="1001"/>
<line x1="226.73" y1="956" x2="226.73" y2="1001"/>
<line x1="248.14" y1="956" x2="248.14" y2="1001"/>
<line x1="269.56" y1="956" x2="269.56" y2="1001"/>
<line x1="290.97" y1="956" x2="290.97" y2="1001"/>
<line x1="312.39" y1="956" x2="312.39" y2="1001"/>
<line x1="333.8" y1="956" x2="333.8" y2="1001"/>
<line x1="355.21" y1="956" x2="355.21" y2="1001"/>
<line x1="376.63" y1="956" x2="376.63" y2="1001"/>
<line x1="398.04" y1="956" x2="398.04" y2="1001"/>
<line x1="419.46" y1="956" x2="419.46" y2="1001"/>
<line x1="440.87" y1="956" x2="440.87" y2="1001"/>
<line x1="462.29" y1="956" x2="462.29" y2="1001"/>
<line x1="483.7" y1="956" x2="483.7" y2="1001"/>
<line x1="505.11" y1="956" x2="505.11" y2="1001"/>
<line x1="526.53" y1="956" x2="526.53" y2="1001"/>
<line x1="547.94" y1="956" x2="547.94" y2="1001"/>
<line x1="569.36" y1="956" x2="569.36" y2="1001"/>
<line x1="590.77" y1="956" x2="590.77" y2="1001"/>
<line x1="612.19" y1="956" x2="612.19" y2="1001"/>
<line x1="633.6" y1="956" x2="633.6" y2="1021"/>
</g>
<line x1="30.5" y1="955.9" x2="633.6" y2="955.9" stroke="#b4b4b4" stroke-width="1.6"/>
<text x="23.9" y="671.42" font-size="9.0" text-anchor="end" fill="#000" class="n">700.0</text>
<text x="23.9" y="729.02" font-size="9.0" text-anchor="end" fill="#000" class="n">650.0</text>
<text x="23.9" y="786.62" font-size="9.0" text-anchor="end" fill="#000" class="n">600.0</text>
<text x="23.9" y="844.22" font-size="9.0" text-anchor="end" fill="#000" class="n">550.0</text>
<text x="23.9" y="901.82" font-size="9.0" text-anchor="end" fill="#000" class="n">500.0</text>
<text x="23.9" y="959.42" font-size="9.0" text-anchor="end" fill="#000" class="n">450.0</text>
<text transform="translate(48.09,962) rotate(-90)" font-size="9.4" text-anchor="end" fill="#000" class="c">11月末</text>
<text transform="translate(69.51,962) rotate(-90)" font-size="9.4" text-anchor="end" fill="#000" class="c">12月末</text>
<text transform="translate(90.92,962) rotate(-90)" font-size="9.4" text-anchor="end" fill="#000" class="c">1月末</text>
<text transform="translate(112.33,962) rotate(-90)" font-size="9.4" text-anchor="end" fill="#000" class="c">2月末</text>
<text transform="translate(133.75,962) rotate(-90)" font-size="9.4" text-anchor="end" fill="#000" class="c">3月末</text>
<text transform="translate(155.16,962) rotate(-90)" font-size="9.4" text-anchor="end" fill="#000" class="c">4月末</text>
<text transform="translate(176.58,962) rotate(-90)" font-size="9.4" text-anchor="end" fill="#000" class="c">5月末</text>
<text transform="translate(197.99,962) rotate(-90)" font-size="9.4" text-anchor="end" fill="#000" class="c">6月末</text>
<text transform="translate(219.41,962) rotate(-90)" font-size="9.4" text-anchor="end" fill="#000" class="c">7月末</text>
<text transform="translate(240.82,962) rotate(-90)" font-size="9.4" text-anchor="end" fill="#000" class="c">8月末</text>
<text transform="translate(262.23,962) rotate(-90)" font-size="9.4" text-anchor="end" fill="#000" class="c">9月末</text>
<text transform="translate(283.65,962) rotate(-90)" font-size="9.4" text-anchor="end" fill="#000" class="c">10月末</text>
<text transform="translate(305.06,962) rotate(-90)" font-size="9.4" text-anchor="end" fill="#000" class="c">11月末</text>
<text transform="translate(326.48,962) rotate(-90)" font-size="9.4" text-anchor="end" fill="#000" class="c">12月3日</text>
<text transform="translate(347.89,962) rotate(-90)" font-size="9.4" text-anchor="end" fill="#000" class="c">12月4日</text>
<text transform="translate(369.31,962) rotate(-90)" font-size="9.4" text-anchor="end" fill="#000" class="c">12月5日</text>
<text transform="translate(390.72,962) rotate(-90)" font-size="9.4" text-anchor="end" fill="#000" class="c">12月6日</text>
<text transform="translate(412.13,962) rotate(-90)" font-size="9.4" text-anchor="end" fill="#000" class="c">12月7日</text>
<text transform="translate(433.55,962) rotate(-90)" font-size="9.4" text-anchor="end" fill="#000" class="c">12月10日</text>
<text transform="translate(454.96,962) rotate(-90)" font-size="9.4" text-anchor="end" fill="#000" class="c">12月11日</text>
<text transform="translate(476.38,962) rotate(-90)" font-size="9.4" text-anchor="end" fill="#000" class="c">12月12日</text>
<text transform="translate(497.79,962) rotate(-90)" font-size="9.4" text-anchor="end" fill="#000" class="c">12月13日</text>
<text transform="translate(519.21,962) rotate(-90)" font-size="9.4" text-anchor="end" fill="#000" class="c">12月14日</text>
<text transform="translate(540.62,962) rotate(-90)" font-size="9.4" text-anchor="end" fill="#000" class="c">12月17日</text>
<text transform="translate(562.03,962) rotate(-90)" font-size="9.4" text-anchor="end" fill="#000" class="c">12月18日</text>
<text transform="translate(583.45,962) rotate(-90)" font-size="9.4" text-anchor="end" fill="#000" class="c">12月19日</text>
<text transform="translate(604.86,962) rotate(-90)" font-size="9.4" text-anchor="end" fill="#000" class="c">12月20日</text>
<text transform="translate(626.28,962) rotate(-90)" font-size="9.4" text-anchor="end" fill="#000" class="c">12月21日</text>
<text x="55.41" y="1018.38" font-size="9.4" text-anchor="middle" fill="#000" class="c">2017年</text>
<text x="355.21" y="1018.38" font-size="9.4" text-anchor="middle" fill="#000" class="c">2018年</text>
<text x="173.6" y="652.24" font-size="13" text-anchor="start" fill="#000" textLength="283.4" lengthAdjust="spacingAndGlyphs" font-weight="bold" style='font-family:"Liberation Serif", "Noto Serif CJK SC", serif'>国产铁矿石价格与进口铁矿石人民币价格走势图</text>
<text x="25.8" y="662.2" font-size="10.8" text-anchor="start" fill="#000" textLength="25" lengthAdjust="spacingAndGlyphs" class="c">元/吨</text>
<line x1="193" y1="678.6" x2="212.4" y2="678.6" stroke="#2a5fd3" stroke-width="2"/>
<path d="M202.7 675.3L206 678.6L202.7 681.9L199.4 678.6Z" fill="#2f9ad8"/>
<text x="214.4" y="680.13" font-size="9.3" text-anchor="start" fill="#000" textLength="64.6" lengthAdjust="spacingAndGlyphs" class="c">国产铁矿石价格</text>
<line x1="313" y1="678.6" x2="332" y2="678.6" stroke="#d42a26" stroke-width="2"/>
<rect x="319.7" y="675.8" width="5.6" height="5.6" fill="#d9702e" stroke="#d42a26" stroke-width="1.2"/>
<text x="334.4" y="680.13" font-size="9.3" text-anchor="start" fill="#000" textLength="129.6" lengthAdjust="spacingAndGlyphs" class="c">进口铁矿石现货贸易人民币价格</text>
<polyline points="45.1,818.6 66.53,782.4 87.96,769.6 109.39,754 130.82,787.2 152.25,804.4 173.68,800 195.11,804.4 216.54,808 237.97,779 259.4,761.6 280.83,721.2 302.26,738.8 323.69,755.5 345.12,760 366.55,759.6 387.98,761.8 409.41,777.6 430.84,778 452.27,769.6 473.7,770.4 495.13,770.6 516.56,769 537.99,767.4 559.42,767.4 580.85,767.6 602.28,760.4 623.71,759.8" fill="none" stroke="#2a5fd3" stroke-width="2.3" stroke-linejoin="round" stroke-linecap="round"/>
<path d="M45.1 815L48.7 818.6L45.1 822.2L41.5 818.6Z" fill="#2f9ad8"/>
<path d="M66.53 778.8L70.13 782.4L66.53 786L62.93 782.4Z" fill="#2f9ad8"/>
<path d="M87.96 766L91.56 769.6L87.96 773.2L84.36 769.6Z" fill="#2f9ad8"/>
<path d="M109.39 750.4L112.99 754L109.39 757.6L105.79 754Z" fill="#2f9ad8"/>
<path d="M130.82 783.6L134.42 787.2L130.82 790.8L127.22 787.2Z" fill="#2f9ad8"/>
<path d="M152.25 800.8L155.85 804.4L152.25 808L148.65 804.4Z" fill="#2f9ad8"/>
<path d="M173.68 796.4L177.28 800L173.68 803.6L170.08 800Z" fill="#2f9ad8"/>
<path d="M195.11 800.8L198.71 804.4L195.11 808L191.51 804.4Z" fill="#2f9ad8"/>
<path d="M216.54 804.4L220.14 808L216.54 811.6L212.94 808Z" fill="#2f9ad8"/>
<path d="M237.97 775.4L241.57 779L237.97 782.6L234.37 779Z" fill="#2f9ad8"/>
<path d="M259.4 758L263 761.6L259.4 765.2L255.8 761.6Z" fill="#2f9ad8"/>
<path d="M280.83 717.6L284.43 721.2L280.83 724.8L277.23 721.2Z" fill="#2f9ad8"/>
<path d="M302.26 735.2L305.86 738.8L302.26 742.4L298.66 738.8Z" fill="#2f9ad8"/>
<path d="M323.69 751.9L327.29 755.5L323.69 759.1L320.09 755.5Z" fill="#2f9ad8"/>
<path d="M345.12 756.4L348.72 760L345.12 763.6L341.52 760Z" fill="#2f9ad8"/>
<path d="M366.55 756L370.15 759.6L366.55 763.2L362.95 759.6Z" fill="#2f9ad8"/>
<path d="M387.98 758.2L391.58 761.8L387.98 765.4L384.38 761.8Z" fill="#2f9ad8"/>
<path d="M409.41 774L413.01 777.6L409.41 781.2L405.81 777.6Z" fill="#2f9ad8"/>
<path d="M430.84 774.4L434.44 778L430.84 781.6L427.24 778Z" fill="#2f9ad8"/>
<path d="M452.27 766L455.87 769.6L452.27 773.2L448.67 769.6Z" fill="#2f9ad8"/>
<path d="M473.7 766.8L477.3 770.4L473.7 774L470.1 770.4Z" fill="#2f9ad8"/>
<path d="M495.13 767L498.73 770.6L495.13 774.2L491.53 770.6Z" fill="#2f9ad8"/>
<path d="M516.56 765.4L520.16 769L516.56 772.6L512.96 769Z" fill="#2f9ad8"/>
<path d="M537.99 763.8L541.59 767.4L537.99 771L534.39 767.4Z" fill="#2f9ad8"/>
<path d="M559.42 763.8L563.02 767.4L559.42 771L555.82 767.4Z" fill="#2f9ad8"/>
<path d="M580.85 764L584.45 767.6L580.85 771.2L577.25 767.6Z" fill="#2f9ad8"/>
<path d="M602.28 756.8L605.88 760.4L602.28 764L598.68 760.4Z" fill="#2f9ad8"/>
<path d="M623.71 756.2L627.31 759.8L623.71 763.4L620.11 759.8Z" fill="#2f9ad8"/>
<polyline points="45.1,837.6 66.53,819.6 87.96,828.4 109.39,795.6 130.82,909 152.25,893.3 173.68,899.6 195.11,903.6 216.54,875 237.97,877 259.4,857.4 280.83,786 302.26,817.6 323.69,805.6 345.12,802.6 366.55,798.6 387.98,809 409.41,805.6 430.84,806.4 452.27,807.6 473.7,806.4 495.13,802.6 516.56,799.2 537.99,794.6 559.42,794.4 580.85,797 602.28,790.4 623.71,788.6" fill="none" stroke="#d42a26" stroke-width="2.1" stroke-linejoin="round" stroke-linecap="round"/>
<rect x="42.05" y="834.55" width="6.1" height="6.1" fill="#d9702e" stroke="#d42a26" stroke-width="1.2"/>
<rect x="63.48" y="816.55" width="6.1" height="6.1" fill="#d9702e" stroke="#d42a26" stroke-width="1.2"/>
<rect x="84.91" y="825.35" width="6.1" height="6.1" fill="#d9702e" stroke="#d42a26" stroke-width="1.2"/>
<rect x="106.34" y="792.55" width="6.1" height="6.1" fill="#d9702e" stroke="#d42a26" stroke-width="1.2"/>
<rect x="127.77" y="905.95" width="6.1" height="6.1" fill="#d9702e" stroke="#d42a26" stroke-width="1.2"/>
<rect x="149.2" y="890.25" width="6.1" height="6.1" fill="#d9702e" stroke="#d42a26" stroke-width="1.2"/>
<rect x="170.63" y="896.55" width="6.1" height="6.1" fill="#d9702e" stroke="#d42a26" stroke-width="1.2"/>
<rect x="192.06" y="900.55" width="6.1" height="6.1" fill="#d9702e" stroke="#d42a26" stroke-width="1.2"/>
<rect x="213.49" y="871.95" width="6.1" height="6.1" fill="#d9702e" stroke="#d42a26" stroke-width="1.2"/>
<rect x="234.92" y="873.95" width="6.1" height="6.1" fill="#d9702e" stroke="#d42a26" stroke-width="1.2"/>
<rect x="256.35" y="854.35" width="6.1" height="6.1" fill="#d9702e" stroke="#d42a26" stroke-width="1.2"/>
<rect x="277.78" y="782.95" width="6.1" height="6.1" fill="#d9702e" stroke="#d42a26" stroke-width="1.2"/>
<rect x="299.21" y="814.55" width="6.1" height="6.1" fill="#d9702e" stroke="#d42a26" stroke-width="1.2"/>
<rect x="320.64" y="802.55" width="6.1" height="6.1" fill="#d9702e" stroke="#d42a26" stroke-width="1.2"/>
<rect x="342.07" y="799.55" width="6.1" height="6.1" fill="#d9702e" stroke="#d42a26" stroke-width="1.2"/>
<rect x="363.5" y="795.55" width="6.1" height="6.1" fill="#d9702e" stroke="#d42a26" stroke-width="1.2"/>
<rect x="384.93" y="805.95" width="6.1" height="6.1" fill="#d9702e" stroke="#d42a26" stroke-width="1.2"/>
<rect x="406.36" y="802.55" width="6.1" height="6.1" fill="#d9702e" stroke="#d42a26" stroke-width="1.2"/>
<rect x="427.79" y="803.35" width="6.1" height="6.1" fill="#d9702e" stroke="#d42a26" stroke-width="1.2"/>
<rect x="449.22" y="804.55" width="6.1" height="6.1" fill="#d9702e" stroke="#d42a26" stroke-width="1.2"/>
<rect x="470.65" y="803.35" width="6.1" height="6.1" fill="#d9702e" stroke="#d42a26" stroke-width="1.2"/>
<rect x="492.08" y="799.55" width="6.1" height="6.1" fill="#d9702e" stroke="#d42a26" stroke-width="1.2"/>
<rect x="513.51" y="796.15" width="6.1" height="6.1" fill="#d9702e" stroke="#d42a26" stroke-width="1.2"/>
<rect x="534.94" y="791.55" width="6.1" height="6.1" fill="#d9702e" stroke="#d42a26" stroke-width="1.2"/>
<rect x="556.37" y="791.35" width="6.1" height="6.1" fill="#d9702e" stroke="#d42a26" stroke-width="1.2"/>
<rect x="577.8" y="793.95" width="6.1" height="6.1" fill="#d9702e" stroke="#d42a26" stroke-width="1.2"/>
<rect x="599.23" y="787.35" width="6.1" height="6.1" fill="#d9702e" stroke="#d42a26" stroke-width="1.2"/>
<rect x="620.66" y="785.55" width="6.1" height="6.1" fill="#d9702e" stroke="#d42a26" stroke-width="1.2"/>
<text x="73" y="761.55" font-size="8.8" text-anchor="start" fill="#000" class="n">612.25</text>
<text x="32" y="830.95" font-size="8.8" text-anchor="start" fill="#000" class="n">569.25</text>
<text x="37.6" y="848.55" font-size="8.8" text-anchor="start" fill="#000" class="n">553.53</text>
<text x="75.6" y="822.55" font-size="8.8" text-anchor="start" fill="#000" class="n">569.23</text>
<text x="118" y="799.15" font-size="8.8" text-anchor="start" fill="#000" class="n">589.73</text>
<text x="147.6" y="798.55" font-size="8.8" text-anchor="start" fill="#000" class="n">582.34</text>
<text x="188.4" y="829.55" font-size="8.8" text-anchor="start" fill="#000" class="n">581.90</text>
<text x="208" y="873.55" font-size="8.8" text-anchor="start" fill="#000" class="n">521.13</text>
<text x="137.6" y="893.55" font-size="8.8" text-anchor="start" fill="#000" class="n">504.98</text>
<text x="236" y="894.95" font-size="8.8" text-anchor="start" fill="#000" class="n">519.06</text>
<text x="141" y="913.95" font-size="8.8" text-anchor="start" fill="#000" class="n">490.92</text>
<text x="265" y="710.55" font-size="8.8" text-anchor="start" fill="#000" class="n">654.01</text>
<text x="223.6" y="774.55" font-size="8.8" text-anchor="start" fill="#000" class="n">604.09</text>
<text x="261" y="777.15" font-size="8.8" text-anchor="start" fill="#000" class="n">597.81</text>
<text x="301.6" y="768.95" font-size="8.8" text-anchor="start" fill="#000" class="n">624.77</text>
<text x="333.6" y="754.55" font-size="8.8" text-anchor="start" fill="#000" class="n">620.97</text>
<text x="373" y="751.55" font-size="8.8" text-anchor="start" fill="#000" class="n">618.92</text>
<text x="358.6" y="776.55" font-size="8.8" text-anchor="start" fill="#000" class="n">620.84</text>
<text x="399.6" y="776.55" font-size="8.8" text-anchor="start" fill="#000" class="n">605.84</text>
<text x="427.4" y="792.55" font-size="8.8" text-anchor="start" fill="#000" class="n">605.38</text>
<text x="448" y="765.15" font-size="8.8" text-anchor="start" fill="#000" class="n">611.90</text>
<text x="456" y="781.55" font-size="8.8" text-anchor="start" fill="#000" class="n">611.33</text>
<text x="490.4" y="763.55" font-size="8.8" text-anchor="start" fill="#000" class="n">611.33</text>
<text x="333.6" y="792.55" font-size="8.8" text-anchor="start" fill="#000" class="n">583.30</text>
<text x="322.6" y="820.15" font-size="8.8" text-anchor="start" fill="#000" class="n">581.11</text>
<text x="379.6" y="803.55" font-size="8.8" text-anchor="start" fill="#000" class="n">577.82</text>
<text x="403" y="818.15" font-size="8.8" text-anchor="start" fill="#000" class="n">581.13</text>
<text x="444" y="827.15" font-size="8.8" text-anchor="start" fill="#000" class="n">578.98</text>
<text x="456" y="799.55" font-size="8.8" text-anchor="start" fill="#000" class="n">580.18</text>
<text x="484.4" y="822.55" font-size="8.8" text-anchor="start" fill="#000" class="n">583.60</text>
<text x="511" y="792.55" font-size="8.8" text-anchor="start" fill="#000" class="n">586.52</text>
<text x="539" y="765.55" font-size="8.8" text-anchor="start" fill="#000" class="n">614.15</text>
<text x="542" y="783.15" font-size="8.8" text-anchor="start" fill="#000" class="n">614.20</text>
<text x="579" y="759.95" font-size="8.8" text-anchor="start" fill="#000" class="n">614.02</text>
<text x="609.6" y="753.55" font-size="8.8" text-anchor="start" fill="#000" class="n">620.96</text>
<text x="588.4" y="779.25" font-size="8.8" text-anchor="start" fill="#000" class="n">620.33</text>
<text x="621" y="779.85" font-size="8.8" text-anchor="start" fill="#000" class="n">595.95</text>
<text x="553" y="809.55" font-size="8.8" text-anchor="start" fill="#000" class="n">590.97</text>
<text x="605" y="803.55" font-size="8.8" text-anchor="start" fill="#000" class="n">594.18</text>
</svg>
</body></html>
